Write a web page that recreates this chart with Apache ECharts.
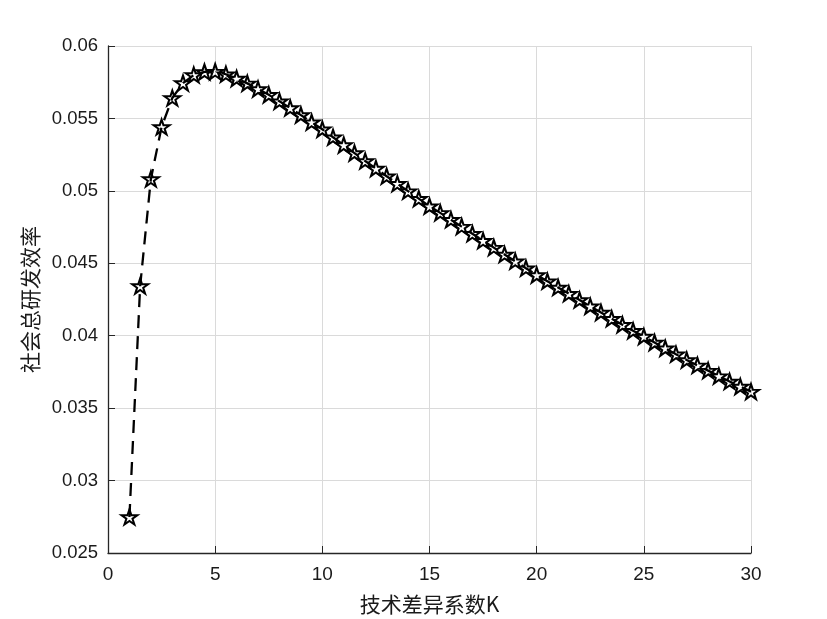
<!DOCTYPE html>
<html>
<head>
<meta charset="utf-8">
<script src="https://cdn.jsdelivr.net/npm/echarts@6/dist/echarts.min.js"></script>
<style>html,body{margin:0;padding:0;background:#fff}#c{width:827px;height:619px}</style>
</head>
<body>
<div id="c"></div>
<script>
const kValues = [1,1.5,2,2.5,3,3.5,4,4.5,5,5.5,6,6.5,7,7.5,8,8.5,9,9.5,10,10.5,11,11.5,12,12.5,13,13.5,14,14.5,15,15.5,16,16.5,17,17.5,18,18.5,19,19.5,20,20.5,21,21.5,22,22.5,23,23.5,24,24.5,25,25.5,26,26.5,27,27.5,28,28.5,29,29.5,30];
const efficiency = [0.02749,0.04343,0.05082,0.05441,0.05641,0.05744,0.05800,0.05821,0.05823,0.05805,0.05775,0.05742,0.05703,0.05663,0.05618,0.05572,0.05523,0.05474,0.05425,0.05370,0.05316,0.05261,0.05206,0.05154,0.05101,0.05049,0.04998,0.04946,0.04894,0.04848,0.04801,0.04753,0.04704,0.04656,0.04608,0.04561,0.04514,0.04466,0.04419,0.04376,0.04333,0.04290,0.04247,0.04203,0.04160,0.04117,0.04075,0.04034,0.03994,0.03953,0.03913,0.03872,0.03832,0.03795,0.03759,0.03721,0.03684,0.03649,0.03614];
const xTitle = '技术差异系数K';
const yTitle = '社会总研发效率';

const star = 'path://M50 0 L61.23 34.55 L97.55 34.55 L68.17 55.9 L79.39 90.45 L50 69.1 L20.61 90.45 L31.83 55.9 L2.45 34.55 L38.77 34.55 Z';
const chart = echarts.init(document.getElementById('c'), null, {renderer: 'canvas'});
chart.setOption({
  animation: false,
  backgroundColor: '#fff',
  grid: {left: 108, right: 76, top: 46, bottom: 66, containLabel: false, outerBoundsMode: 'none'},
  xAxis: {
    type: 'value', min: 0, max: 30, interval: 5,
    name: xTitle, nameLocation: 'middle', nameGap: 41,
    nameTextStyle: {fontFamily: '"Noto Sans CJK SC"', fontSize: 21, color: '#1a1a1a', verticalAlign: 'top'},
    axisLine: {show: true, onZero: false, lineStyle: {color: '#262626', width: 1.3}},
    axisTick: {show: true, inside: true, length: 7, lineStyle: {color: '#262626', width: 1}},
    axisLabel: {fontFamily: '"Liberation Sans", Arial', fontSize: 19, color: '#1a1a1a', margin: 12},
    splitLine: {show: true, lineStyle: {color: '#dadada', width: 1}}
  },
  yAxis: {
    type: 'value', min: 0.025, max: 0.06, interval: 0.005,
    name: yTitle, nameLocation: 'middle', nameGap: 66, nameRotate: 90,
    nameTextStyle: {fontFamily: '"Noto Sans CJK SC"', fontSize: 21, color: '#1a1a1a'},
    axisLine: {show: true, onZero: false, lineStyle: {color: '#262626', width: 1.3}},
    axisTick: {show: true, inside: true, length: 7, lineStyle: {color: '#262626', width: 1}},
    axisLabel: {fontFamily: '"Liberation Sans", Arial', fontSize: 18.5, color: '#1a1a1a', margin: 10,
      formatter: v => String(+v.toFixed(3))},
    splitLine: {show: true, lineStyle: {color: '#dadada', width: 1}}
  },
  series: [{
    type: 'line',
    data: kValues.map((k, i) => [k, efficiency[i]]),
    symbol: star, symbolSize: [16, 15], showAllSymbol: true,
    lineStyle: {color: '#000', width: 2.3, type: [13, 8]},
    itemStyle: {color: 'rgba(255,255,255,0)', borderColor: '#000', borderWidth: 2},
    z: 3
  }]
});
</script>
</body>
</html>
